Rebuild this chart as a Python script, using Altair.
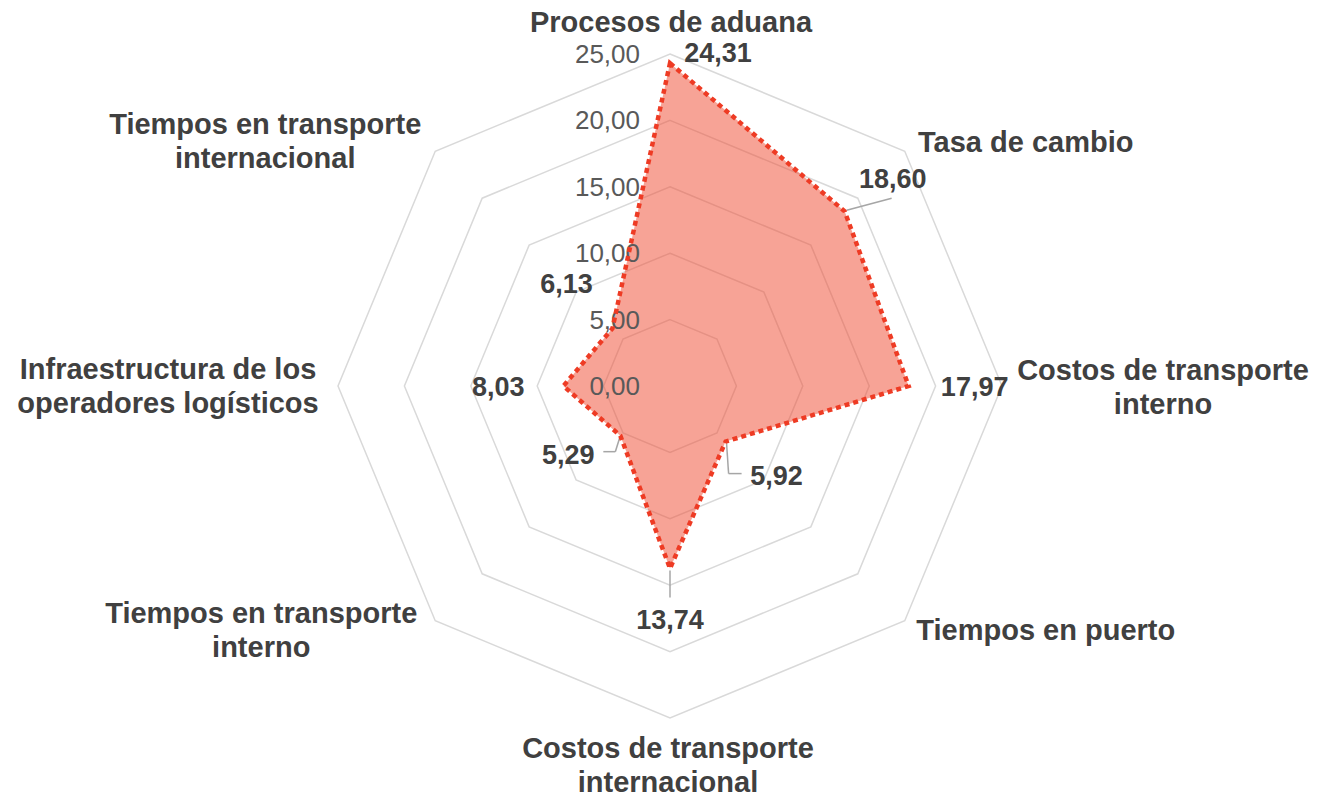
import altair as alt
import pandas as pd

# ---- data ----
categories = [
    "Procesos de aduana",
    "Tasa de cambio",
    "Costos de transporte\ninterno",
    "Tiempos en puerto",
    "Costos de transporte\ninternacional",
    "Tiempos en transporte\ninterno",
    "Infraestructura de los\noperadores logísticos",
    "Tiempos en transporte\ninternacional",
]
values = [24.31, 18.60, 17.97, 5.92, 13.74, 5.29, 8.03, 6.13]
value_labels = ["24,31", "18,60", "17,97", "5,92", "13,74", "5,29", "8,03", "6,13"]
grid_levels = [5, 10, 15, 20, 25]
tick_values = [0, 5, 10, 15, 20, 25]
tick_labels = ["0,00", "5,00", "10,00", "15,00", "20,00", "25,00"]
R_MAX = 25

n = len(categories)
series = pd.DataFrame({"idx": list(range(n)), "cat": categories, "value": values, "label": value_labels})
grid = pd.DataFrame([(lv, i) for lv in grid_levels for i in range(n)], columns=["level", "idx"])
ticks = pd.DataFrame({"tick": tick_values, "label": tick_labels})
verts = pd.DataFrame({"idx": list(range(n)), "cat": categories, "r": [R_MAX] * n})

# ---- layout (scale so that 25 units = 332 px, centre at page 670,384) ----
W, H = 1303, 777
px = 332 / R_MAX
cx, cy = 670, 384
x_dom = [(8 - cx) / px, (8 + W - cx) / px]
y_dom = [-(8 + H - cy) / px, (cy - 8) / px]
X = alt.X("x:Q", scale=alt.Scale(domain=x_dom, nice=False, zero=False), axis=None)
Y = alt.Y("y:Q", scale=alt.Scale(domain=y_dom, nice=False, zero=False), axis=None)
X2 = alt.X2("x")
Y2 = alt.Y2("y")

FONT = "Liberation Sans"
ang = "datum.idx * PI / 4"
LH = 34


def polar(chart, rfield):
    return chart.transform_calculate(
        x=f"datum.{rfield} * sin({ang})", y=f"datum.{rfield} * cos({ang})"
    )


layers = []

# grid octagons
layers.append(
    polar(alt.Chart(grid), "level")
    .mark_line(interpolate="linear-closed", color="#d9d9d9", strokeWidth=1.5)
    .encode(x=X, y=Y, detail="level:N", order="idx:Q")
)

# filled area
layers.append(
    polar(alt.Chart(series), "value")
    .mark_line(interpolate="linear-closed", fill="#EF4F36", fillOpacity=0.52, stroke="transparent", strokeWidth=0)
    .encode(x=X, y=Y, order="idx:Q")
)

# radial axis labels
layers.append(
    alt.Chart(ticks)
    .transform_calculate(x="0", y="datum.tick")
    .mark_text(align="right", baseline="middle", dx=-30, dy=1, fontSize=26, font=FONT, color="#595959")
    .encode(x=X, y=Y, text="label:N")
)

# leader lines: (idx, start offset, end offset)
leaders = [
    (1, (2, -1), (47, -13)),
    (3, (1, 2), (3, 32)),
    (3, (3, 32), (16, 32)),
    (4, (0, 2), (0, 29)),
    (5, (0, 0), (-5, 16)),
    (5, (-5, 16), (-17, 16)),
]
for idx, (sx, sy), (ex, ey) in leaders:
    layers.append(
        polar(alt.Chart(series).transform_filter(f"datum.idx == {idx}"), "value")
        .mark_rule(color="#a6a6a6", strokeWidth=1.5, xOffset=sx, yOffset=sy, x2Offset=ex, y2Offset=ey)
        .encode(x=X, y=Y, x2=X2, y2=Y2)
    )

# dotted series line
layers.append(
    polar(alt.Chart(series), "value")
    .mark_line(interpolate="linear-closed", color="#EE3B24", strokeWidth=4.5, strokeDash=[5, 4])
    .encode(x=X, y=Y, order="idx:Q")
)

# value labels
val_off = [(48, -11), (48, -33), (66, 0), (51, 33), (0, 51), (-52, 18), (-65, 0), (-46, -45)]
for i, (dx, dy) in enumerate(val_off):
    layers.append(
        polar(alt.Chart(series).transform_filter(f"datum.idx == {i}"), "value")
        .mark_text(align="center", baseline="middle", dx=dx, dy=dy + 2, fontSize=27,
                   fontWeight="bold", font=FONT, color="#404040")
        .encode(x=X, y=Y, text="label:N")
    )

# category labels (offsets are for the centre of the text block)
cat_off = [(1, -32), (121, -9), (161, 1), (141, 9), (-2, 47), (-174, 9), (-170, 0), (-170, -10)]
for i, (dx, dy) in enumerate(cat_off):
    nlines = categories[i].count("\n") + 1
    shift = -(nlines - 1) * LH / 2
    layers.append(
        polar(alt.Chart(verts).transform_filter(f"datum.idx == {i}"), "r")
        .mark_text(align="center", baseline="middle", dx=dx, dy=dy + 1 + shift, fontSize=29,
                   fontWeight="bold", font=FONT, color="#404040", lineBreak="\n", lineHeight=LH)
        .encode(x=X, y=Y, text="cat:N")
    )

chart = (
    alt.layer(*layers)
    .properties(width=W, height=H, padding=0, background="white")
    .configure_view(stroke=None)
)
chart.save("out.html", embed_options={"renderer": "svg", "actions": False})
